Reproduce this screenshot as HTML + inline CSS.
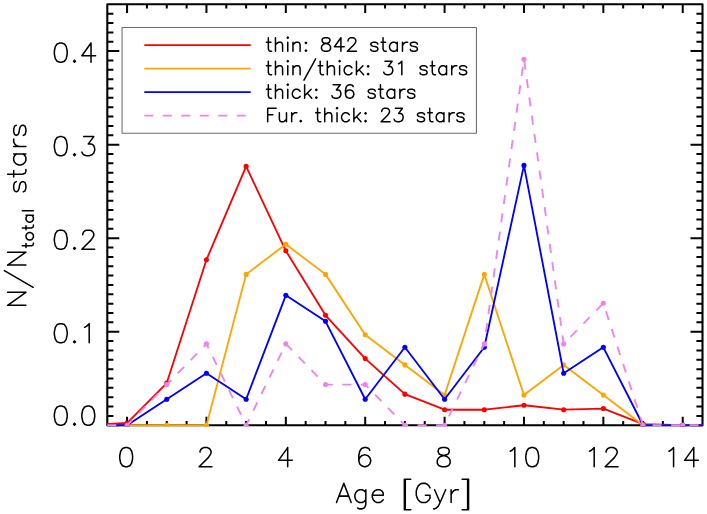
<!DOCTYPE html>
<html><head><meta charset="utf-8"><title>Age distribution</title>
<style>html,body{margin:0;padding:0;background:#fff;overflow:hidden;font-family:"Liberation Sans",sans-serif;}svg{display:block;position:absolute;left:0;top:0}</style>
</head><body>
<svg width="707" height="514" viewBox="0 0 707 514">
<rect x="0" y="0" width="707" height="514" fill="#fff"/>
<path d="M127.07 425.25V416.65 M127.07 4.3V12.9 M146.91 425.25V420.95 M146.91 4.3V8.6 M166.76 425.25V420.95 M166.76 4.3V8.6 M186.6 425.25V420.95 M186.6 4.3V8.6 M206.45 425.25V416.65 M206.45 4.3V12.9 M226.29 425.25V420.95 M226.29 4.3V8.6 M246.14 425.25V420.95 M246.14 4.3V8.6 M265.99 425.25V420.95 M265.99 4.3V8.6 M285.83 425.25V416.65 M285.83 4.3V12.9 M305.67 425.25V420.95 M305.67 4.3V8.6 M325.52 425.25V420.95 M325.52 4.3V8.6 M345.37 425.25V420.95 M345.37 4.3V8.6 M365.21 425.25V416.65 M365.21 4.3V12.9 M385.06 425.25V420.95 M385.06 4.3V8.6 M404.9 425.25V420.95 M404.9 4.3V8.6 M424.74 425.25V420.95 M424.74 4.3V8.6 M444.59 425.25V416.65 M444.59 4.3V12.9 M464.44 425.25V420.95 M464.44 4.3V8.6 M484.28 425.25V420.95 M484.28 4.3V8.6 M504.12 425.25V420.95 M504.12 4.3V8.6 M523.97 425.25V416.65 M523.97 4.3V12.9 M543.82 425.25V420.95 M543.82 4.3V8.6 M563.66 425.25V420.95 M563.66 4.3V8.6 M583.5 425.25V420.95 M583.5 4.3V8.6 M603.35 425.25V416.65 M603.35 4.3V12.9 M623.19 425.25V420.95 M623.19 4.3V8.6 M643.04 425.25V420.95 M643.04 4.3V8.6 M662.88 425.25V420.95 M662.88 4.3V8.6 M682.73 425.25V416.65 M682.73 4.3V12.9 M107.3 425.25H119.3 M702.5 425.25H690.5 M107.3 415.9H113.4 M702.5 415.9H696.4 M107.3 406.54H113.4 M702.5 406.54H696.4 M107.3 397.19H113.4 M702.5 397.19H696.4 M107.3 387.83H113.4 M702.5 387.83H696.4 M107.3 378.48H113.4 M702.5 378.48H696.4 M107.3 369.13H113.4 M702.5 369.13H696.4 M107.3 359.77H113.4 M702.5 359.77H696.4 M107.3 350.42H113.4 M702.5 350.42H696.4 M107.3 341.06H113.4 M702.5 341.06H696.4 M107.3 331.71H119.3 M702.5 331.71H690.5 M107.3 322.36H113.4 M702.5 322.36H696.4 M107.3 313H113.4 M702.5 313H696.4 M107.3 303.65H113.4 M702.5 303.65H696.4 M107.3 294.29H113.4 M702.5 294.29H696.4 M107.3 284.94H113.4 M702.5 284.94H696.4 M107.3 275.59H113.4 M702.5 275.59H696.4 M107.3 266.23H113.4 M702.5 266.23H696.4 M107.3 256.88H113.4 M702.5 256.88H696.4 M107.3 247.52H113.4 M702.5 247.52H696.4 M107.3 238.17H119.3 M702.5 238.17H690.5 M107.3 228.82H113.4 M702.5 228.82H696.4 M107.3 219.46H113.4 M702.5 219.46H696.4 M107.3 210.11H113.4 M702.5 210.11H696.4 M107.3 200.75H113.4 M702.5 200.75H696.4 M107.3 191.4H113.4 M702.5 191.4H696.4 M107.3 182.05H113.4 M702.5 182.05H696.4 M107.3 172.69H113.4 M702.5 172.69H696.4 M107.3 163.34H113.4 M702.5 163.34H696.4 M107.3 153.98H113.4 M702.5 153.98H696.4 M107.3 144.63H119.3 M702.5 144.63H690.5 M107.3 135.28H113.4 M702.5 135.28H696.4 M107.3 125.92H113.4 M702.5 125.92H696.4 M107.3 116.57H113.4 M702.5 116.57H696.4 M107.3 107.21H113.4 M702.5 107.21H696.4 M107.3 97.86H113.4 M702.5 97.86H696.4 M107.3 88.51H113.4 M702.5 88.51H696.4 M107.3 79.15H113.4 M702.5 79.15H696.4 M107.3 69.8H113.4 M702.5 69.8H696.4 M107.3 60.44H113.4 M702.5 60.44H696.4 M107.3 51.09H119.3 M702.5 51.09H690.5 M107.3 41.74H113.4 M702.5 41.74H696.4 M107.3 32.38H113.4 M702.5 32.38H696.4 M107.3 23.03H113.4 M702.5 23.03H696.4 M107.3 13.67H113.4 M702.5 13.67H696.4" stroke="#000" stroke-width="2.0" fill="none"/>
<rect x="107.3" y="4.3" width="595.2" height="420.95" fill="none" stroke="#000" stroke-width="2.1" stroke-linejoin="round"/>
<clipPath id="c"><rect x="106.9" y="4.3" width="596.1" height="422.15"/></clipPath>
<g clip-path="url(#c)">
<path d="M87.38 425.25 L127.07 423.03 L166.76 383.03 L206.45 259.72 L246.14 166.4 L285.83 250.83 L325.52 315.27 L365.21 358.59 L404.9 394.14 L444.59 409.7 L484.28 409.7 L523.97 405.25 L563.66 409.7 L603.35 408.59 L643.04 424.14 L682.73 425.25 L722.42 425.25" stroke="#ff0000" stroke-width="1.85" fill="none" stroke-linejoin="round"/>
<circle cx="127.07" cy="423.03" r="2.55" fill="#ff0000"/>
<circle cx="166.76" cy="383.03" r="2.55" fill="#ff0000"/>
<circle cx="206.45" cy="259.72" r="2.55" fill="#ff0000"/>
<circle cx="246.14" cy="166.4" r="2.55" fill="#ff0000"/>
<circle cx="285.83" cy="250.83" r="2.55" fill="#ff0000"/>
<circle cx="325.52" cy="315.27" r="2.55" fill="#ff0000"/>
<circle cx="365.21" cy="358.59" r="2.55" fill="#ff0000"/>
<circle cx="404.9" cy="394.14" r="2.55" fill="#ff0000"/>
<circle cx="444.59" cy="409.7" r="2.55" fill="#ff0000"/>
<circle cx="484.28" cy="409.7" r="2.55" fill="#ff0000"/>
<circle cx="523.97" cy="405.25" r="2.55" fill="#ff0000"/>
<circle cx="563.66" cy="409.7" r="2.55" fill="#ff0000"/>
<circle cx="603.35" cy="408.59" r="2.55" fill="#ff0000"/>
<circle cx="643.04" cy="424.14" r="2.55" fill="#ff0000"/>
<circle cx="682.73" cy="425.25" r="2.55" fill="#ff0000"/>
<path d="M87.38 425.25 L127.07 425.25 L166.76 425.25 L206.45 425.25 L246.14 274.38 L285.83 244.2 L325.52 274.38 L365.21 334.73 L404.9 364.9 L444.59 395.08 L484.28 274.38 L523.97 395.08 L563.66 364.9 L603.35 395.08 L643.04 425.25 L682.73 425.25 L722.42 425.25" stroke="#ffa500" stroke-width="1.85" fill="none" stroke-linejoin="round"/>
<circle cx="127.07" cy="425.25" r="2.55" fill="#ffa500"/>
<circle cx="166.76" cy="425.25" r="2.55" fill="#ffa500"/>
<circle cx="206.45" cy="425.25" r="2.55" fill="#ffa500"/>
<circle cx="246.14" cy="274.38" r="2.55" fill="#ffa500"/>
<circle cx="285.83" cy="244.2" r="2.55" fill="#ffa500"/>
<circle cx="325.52" cy="274.38" r="2.55" fill="#ffa500"/>
<circle cx="365.21" cy="334.73" r="2.55" fill="#ffa500"/>
<circle cx="404.9" cy="364.9" r="2.55" fill="#ffa500"/>
<circle cx="444.59" cy="395.08" r="2.55" fill="#ffa500"/>
<circle cx="484.28" cy="274.38" r="2.55" fill="#ffa500"/>
<circle cx="523.97" cy="395.08" r="2.55" fill="#ffa500"/>
<circle cx="563.66" cy="364.9" r="2.55" fill="#ffa500"/>
<circle cx="603.35" cy="395.08" r="2.55" fill="#ffa500"/>
<circle cx="643.04" cy="425.25" r="2.55" fill="#ffa500"/>
<circle cx="682.73" cy="425.25" r="2.55" fill="#ffa500"/>
<path d="M87.38 425.25 L127.07 425.25 L166.76 399.27 L206.45 373.28 L246.14 399.27 L285.83 295.33 L325.52 321.32 L365.21 399.27 L404.9 347.3 L444.59 399.27 L484.28 347.3 L523.97 165.42 L563.66 373.28 L603.35 347.3 L643.04 425.25 L682.73 425.25 L722.42 425.25" stroke="#0000ff" stroke-width="1.85" fill="none" stroke-linejoin="round"/>
<circle cx="127.07" cy="425.25" r="2.55" fill="#0000ff"/>
<circle cx="166.76" cy="399.27" r="2.55" fill="#0000ff"/>
<circle cx="206.45" cy="373.28" r="2.55" fill="#0000ff"/>
<circle cx="246.14" cy="399.27" r="2.55" fill="#0000ff"/>
<circle cx="285.83" cy="295.33" r="2.55" fill="#0000ff"/>
<circle cx="325.52" cy="321.32" r="2.55" fill="#0000ff"/>
<circle cx="365.21" cy="399.27" r="2.55" fill="#0000ff"/>
<circle cx="404.9" cy="347.3" r="2.55" fill="#0000ff"/>
<circle cx="444.59" cy="399.27" r="2.55" fill="#0000ff"/>
<circle cx="484.28" cy="347.3" r="2.55" fill="#0000ff"/>
<circle cx="523.97" cy="165.42" r="2.55" fill="#0000ff"/>
<circle cx="563.66" cy="373.28" r="2.55" fill="#0000ff"/>
<circle cx="603.35" cy="347.3" r="2.55" fill="#0000ff"/>
<circle cx="643.04" cy="425.25" r="2.55" fill="#0000ff"/>
<circle cx="682.73" cy="425.25" r="2.55" fill="#0000ff"/>
<path d="M107.3 425.25 L127.07 425.25 L166.76 384.58 L206.45 343.91 L246.14 425.25 L285.83 343.91 L325.52 384.58 L365.21 384.58 L404.9 425.25 L444.59 425.25 L484.28 343.91 L523.97 59.22 L563.66 343.91 L603.35 303.24 L643.04 425.25 L682.73 425.25 L722.42 425.25" stroke="#ee82ee" stroke-width="1.85" fill="none" stroke-linejoin="round" stroke-dasharray="9 9.48"/>
<circle cx="127.07" cy="425.25" r="2.55" fill="#ee82ee"/>
<circle cx="166.76" cy="384.58" r="2.55" fill="#ee82ee"/>
<circle cx="206.45" cy="343.91" r="2.55" fill="#ee82ee"/>
<circle cx="246.14" cy="425.25" r="2.55" fill="#ee82ee"/>
<circle cx="285.83" cy="343.91" r="2.55" fill="#ee82ee"/>
<circle cx="325.52" cy="384.58" r="2.55" fill="#ee82ee"/>
<circle cx="365.21" cy="384.58" r="2.55" fill="#ee82ee"/>
<circle cx="404.9" cy="425.25" r="2.55" fill="#ee82ee"/>
<circle cx="444.59" cy="425.25" r="2.55" fill="#ee82ee"/>
<circle cx="484.28" cy="343.91" r="2.55" fill="#ee82ee"/>
<circle cx="523.97" cy="59.22" r="2.55" fill="#ee82ee"/>
<circle cx="563.66" cy="343.91" r="2.55" fill="#ee82ee"/>
<circle cx="603.35" cy="303.24" r="2.55" fill="#ee82ee"/>
<circle cx="643.04" cy="425.25" r="2.55" fill="#ee82ee"/>
<circle cx="682.73" cy="425.25" r="2.55" fill="#ee82ee"/>
</g>
<rect x="122.05" y="27.55" width="354.4" height="105.75" fill="none" stroke="#6c6c6c" stroke-width="1.05" stroke-linejoin="round"/>
<path d="M144.3 45.2H250.7" stroke="#ff0000" stroke-width="1.8" fill="none"/>
<path d="M144.3 68.7H250.7" stroke="#ffa500" stroke-width="1.8" fill="none"/>
<path d="M144.3 92.2H250.7" stroke="#0000ff" stroke-width="1.8" fill="none"/>
<path d="M144.3 115.7H250.7" stroke="#ee82ee" stroke-width="1.8" fill="none" stroke-dasharray="9 9.48"/>
<path d="M268.34 37.69 L268.34 48.71 L268.99 50.65 L270.29 51.3 L271.58 51.3 M266.4 42.23 L270.94 42.23 M275.47 37.69 L275.47 51.3 M275.47 44.82 L277.42 42.88 L278.71 42.23 L280.66 42.23 L281.95 42.88 L282.6 44.82 L282.6 51.3 M287.14 37.69 L287.78 38.34 L288.43 37.69 L287.78 37.04 L287.14 37.69 M287.78 42.23 L287.78 51.3 M292.97 42.23 L292.97 51.3 M292.97 44.82 L294.91 42.88 L296.21 42.23 L298.15 42.23 L299.45 42.88 L300.1 44.82 L300.1 51.3 M305.93 42.23 L305.28 42.88 L305.93 43.52 L306.58 42.88 L305.93 42.23 M305.93 50 L305.28 50.65 L305.93 51.3 L306.58 50.65 L305.93 50 M324.72 37.69 L322.78 38.34 L322.13 39.64 L322.13 40.93 L322.78 42.23 L324.07 42.88 L326.66 43.52 L328.61 44.17 L329.9 45.47 L330.55 46.76 L330.55 48.71 L329.9 50 L329.26 50.65 L327.31 51.3 L324.72 51.3 L322.78 50.65 L322.13 50 L321.48 48.71 L321.48 46.76 L322.13 45.47 L323.42 44.17 L325.37 43.52 L327.96 42.88 L329.26 42.23 L329.9 40.93 L329.9 39.64 L329.26 38.34 L327.31 37.69 L324.72 37.69 M340.92 37.69 L334.44 46.76 L344.16 46.76 M340.92 37.69 L340.92 51.3 M348.05 40.93 L348.05 40.28 L348.7 38.99 L349.34 38.34 L350.64 37.69 L353.23 37.69 L354.53 38.34 L355.18 38.99 L355.82 40.28 L355.82 41.58 L355.18 42.88 L353.88 44.82 L347.4 51.3 L356.47 51.3 M377.86 44.17 L377.21 42.88 L375.26 42.23 L373.32 42.23 L371.38 42.88 L370.73 44.17 L371.38 45.47 L372.67 46.12 L375.91 46.76 L377.21 47.41 L377.86 48.71 L377.86 49.36 L377.21 50.65 L375.26 51.3 L373.32 51.3 L371.38 50.65 L370.73 49.36 M383.04 37.69 L383.04 48.71 L383.69 50.65 L384.98 51.3 L386.28 51.3 M381.1 42.23 L385.63 42.23 M397.3 42.23 L397.3 51.3 M397.3 44.17 L396 42.88 L394.7 42.23 L392.76 42.23 L391.46 42.88 L390.17 44.17 L389.52 46.12 L389.52 47.41 L390.17 49.36 L391.46 50.65 L392.76 51.3 L394.7 51.3 L396 50.65 L397.3 49.36 M402.48 42.23 L402.48 51.3 M402.48 46.12 L403.13 44.17 L404.42 42.88 L405.72 42.23 L407.66 42.23 M417.38 44.17 L416.74 42.88 L414.79 42.23 L412.85 42.23 L410.9 42.88 L410.26 44.17 L410.9 45.47 L412.2 46.12 L415.44 46.76 L416.74 47.41 L417.38 48.71 L417.38 49.36 L416.74 50.65 L414.79 51.3 L412.85 51.3 L410.9 50.65 L410.26 49.36 M268.34 61.19 L268.34 72.21 L268.99 74.15 L270.29 74.8 L271.58 74.8 M266.4 65.73 L270.94 65.73 M275.47 61.19 L275.47 74.8 M275.47 68.32 L277.42 66.38 L278.71 65.73 L280.66 65.73 L281.95 66.38 L282.6 68.32 L282.6 74.8 M287.14 61.19 L287.78 61.84 L288.43 61.19 L287.78 60.54 L287.14 61.19 M287.78 65.73 L287.78 74.8 M292.97 65.73 L292.97 74.8 M292.97 68.32 L294.91 66.38 L296.21 65.73 L298.15 65.73 L299.45 66.38 L300.1 68.32 L300.1 74.8 M315.65 58.79 L303.98 80.18 M320.18 61.19 L320.18 72.21 L320.83 74.15 L322.13 74.8 L323.42 74.8 M318.24 65.73 L322.78 65.73 M327.31 61.19 L327.31 74.8 M327.31 68.32 L329.26 66.38 L330.55 65.73 L332.5 65.73 L333.79 66.38 L334.44 68.32 L334.44 74.8 M338.98 61.19 L339.62 61.84 L340.27 61.19 L339.62 60.54 L338.98 61.19 M339.62 65.73 L339.62 74.8 M351.94 67.67 L350.64 66.38 L349.34 65.73 L347.4 65.73 L346.1 66.38 L344.81 67.67 L344.16 69.62 L344.16 70.91 L344.81 72.86 L346.1 74.15 L347.4 74.8 L349.34 74.8 L350.64 74.15 L351.94 72.86 M356.47 61.19 L356.47 74.8 M362.95 65.73 L356.47 72.21 M359.06 69.62 L363.6 74.8 M368.14 65.73 L367.49 66.38 L368.14 67.02 L368.78 66.38 L368.14 65.73 M368.14 73.5 L367.49 74.15 L368.14 74.8 L368.78 74.15 L368.14 73.5 M384.98 61.19 L392.11 61.19 L388.22 66.38 L390.17 66.38 L391.46 67.02 L392.11 67.67 L392.76 69.62 L392.76 70.91 L392.11 72.86 L390.82 74.15 L388.87 74.8 L386.93 74.8 L384.98 74.15 L384.34 73.5 L383.69 72.21 M398.59 63.78 L399.89 63.14 L401.83 61.19 L401.83 74.8 M427.1 67.67 L426.46 66.38 L424.51 65.73 L422.57 65.73 L420.62 66.38 L419.98 67.67 L420.62 68.97 L421.92 69.62 L425.16 70.26 L426.46 70.91 L427.1 72.21 L427.1 72.86 L426.46 74.15 L424.51 74.8 L422.57 74.8 L420.62 74.15 L419.98 72.86 M432.29 61.19 L432.29 72.21 L432.94 74.15 L434.23 74.8 L435.53 74.8 M430.34 65.73 L434.88 65.73 M446.54 65.73 L446.54 74.8 M446.54 67.67 L445.25 66.38 L443.95 65.73 L442.01 65.73 L440.71 66.38 L439.42 67.67 L438.77 69.62 L438.77 70.91 L439.42 72.86 L440.71 74.15 L442.01 74.8 L443.95 74.8 L445.25 74.15 L446.54 72.86 M451.73 65.73 L451.73 74.8 M451.73 69.62 L452.38 67.67 L453.67 66.38 L454.97 65.73 L456.91 65.73 M466.63 67.67 L465.98 66.38 L464.04 65.73 L462.1 65.73 L460.15 66.38 L459.5 67.67 L460.15 68.97 L461.45 69.62 L464.69 70.26 L465.98 70.91 L466.63 72.21 L466.63 72.86 L465.98 74.15 L464.04 74.8 L462.1 74.8 L460.15 74.15 L459.5 72.86 M268.34 84.69 L268.34 95.71 L268.99 97.65 L270.29 98.3 L271.58 98.3 M266.4 89.23 L270.94 89.23 M275.47 84.69 L275.47 98.3 M275.47 91.82 L277.42 89.88 L278.71 89.23 L280.66 89.23 L281.95 89.88 L282.6 91.82 L282.6 98.3 M287.14 84.69 L287.78 85.34 L288.43 84.69 L287.78 84.04 L287.14 84.69 M287.78 89.23 L287.78 98.3 M300.1 91.17 L298.8 89.88 L297.5 89.23 L295.56 89.23 L294.26 89.88 L292.97 91.17 L292.32 93.12 L292.32 94.41 L292.97 96.36 L294.26 97.65 L295.56 98.3 L297.5 98.3 L298.8 97.65 L300.1 96.36 M304.63 84.69 L304.63 98.3 M311.11 89.23 L304.63 95.71 M307.22 93.12 L311.76 98.3 M316.3 89.23 L315.65 89.88 L316.3 90.52 L316.94 89.88 L316.3 89.23 M316.3 97 L315.65 97.65 L316.3 98.3 L316.94 97.65 L316.3 97 M333.14 84.69 L340.27 84.69 L336.38 89.88 L338.33 89.88 L339.62 90.52 L340.27 91.17 L340.92 93.12 L340.92 94.41 L340.27 96.36 L338.98 97.65 L337.03 98.3 L335.09 98.3 L333.14 97.65 L332.5 97 L331.85 95.71 M353.23 86.64 L352.58 85.34 L350.64 84.69 L349.34 84.69 L347.4 85.34 L346.1 87.28 L345.46 90.52 L345.46 93.76 L346.1 96.36 L347.4 97.65 L349.34 98.3 L349.99 98.3 L351.94 97.65 L353.23 96.36 L353.88 94.41 L353.88 93.76 L353.23 91.82 L351.94 90.52 L349.99 89.88 L349.34 89.88 L347.4 90.52 L346.1 91.82 L345.46 93.76 M375.26 91.17 L374.62 89.88 L372.67 89.23 L370.73 89.23 L368.78 89.88 L368.14 91.17 L368.78 92.47 L370.08 93.12 L373.32 93.76 L374.62 94.41 L375.26 95.71 L375.26 96.36 L374.62 97.65 L372.67 98.3 L370.73 98.3 L368.78 97.65 L368.14 96.36 M380.45 84.69 L380.45 95.71 L381.1 97.65 L382.39 98.3 L383.69 98.3 M378.5 89.23 L383.04 89.23 M394.7 89.23 L394.7 98.3 M394.7 91.17 L393.41 89.88 L392.11 89.23 L390.17 89.23 L388.87 89.88 L387.58 91.17 L386.93 93.12 L386.93 94.41 L387.58 96.36 L388.87 97.65 L390.17 98.3 L392.11 98.3 L393.41 97.65 L394.7 96.36 M399.89 89.23 L399.89 98.3 M399.89 93.12 L400.54 91.17 L401.83 89.88 L403.13 89.23 L405.07 89.23 M414.79 91.17 L414.14 89.88 L412.2 89.23 L410.26 89.23 L408.31 89.88 L407.66 91.17 L408.31 92.47 L409.61 93.12 L412.85 93.76 L414.14 94.41 L414.79 95.71 L414.79 96.36 L414.14 97.65 L412.2 98.3 L410.26 98.3 L408.31 97.65 L407.66 96.36 M267.7 108.19 L267.7 121.8 M267.7 108.19 L276.12 108.19 M267.7 114.67 L272.88 114.67 M279.36 112.73 L279.36 119.21 L280.01 121.15 L281.3 121.8 L283.25 121.8 L284.54 121.15 L286.49 119.21 M286.49 112.73 L286.49 121.8 M291.67 112.73 L291.67 121.8 M291.67 116.62 L292.32 114.67 L293.62 113.38 L294.91 112.73 L296.86 112.73 M300.74 120.5 L300.1 121.15 L300.74 121.8 L301.39 121.15 L300.74 120.5 M317.59 108.19 L317.59 119.21 L318.24 121.15 L319.54 121.8 L320.83 121.8 M315.65 112.73 L320.18 112.73 M324.72 108.19 L324.72 121.8 M324.72 115.32 L326.66 113.38 L327.96 112.73 L329.9 112.73 L331.2 113.38 L331.85 115.32 L331.85 121.8 M336.38 108.19 L337.03 108.84 L337.68 108.19 L337.03 107.54 L336.38 108.19 M337.03 112.73 L337.03 121.8 M349.34 114.67 L348.05 113.38 L346.75 112.73 L344.81 112.73 L343.51 113.38 L342.22 114.67 L341.57 116.62 L341.57 117.91 L342.22 119.86 L343.51 121.15 L344.81 121.8 L346.75 121.8 L348.05 121.15 L349.34 119.86 M353.88 108.19 L353.88 121.8 M360.36 112.73 L353.88 119.21 M356.47 116.62 L361.01 121.8 M365.54 112.73 L364.9 113.38 L365.54 114.02 L366.19 113.38 L365.54 112.73 M365.54 120.5 L364.9 121.15 L365.54 121.8 L366.19 121.15 L365.54 120.5 M381.74 111.43 L381.74 110.78 L382.39 109.49 L383.04 108.84 L384.34 108.19 L386.93 108.19 L388.22 108.84 L388.87 109.49 L389.52 110.78 L389.52 112.08 L388.87 113.38 L387.58 115.32 L381.1 121.8 L390.17 121.8 M395.35 108.19 L402.48 108.19 L398.59 113.38 L400.54 113.38 L401.83 114.02 L402.48 114.67 L403.13 116.62 L403.13 117.91 L402.48 119.86 L401.18 121.15 L399.24 121.8 L397.3 121.8 L395.35 121.15 L394.7 120.5 L394.06 119.21 M424.51 114.67 L423.86 113.38 L421.92 112.73 L419.98 112.73 L418.03 113.38 L417.38 114.67 L418.03 115.97 L419.33 116.62 L422.57 117.26 L423.86 117.91 L424.51 119.21 L424.51 119.86 L423.86 121.15 L421.92 121.8 L419.98 121.8 L418.03 121.15 L417.38 119.86 M429.7 108.19 L429.7 119.21 L430.34 121.15 L431.64 121.8 L432.94 121.8 M427.75 112.73 L432.29 112.73 M443.95 112.73 L443.95 121.8 M443.95 114.67 L442.66 113.38 L441.36 112.73 L439.42 112.73 L438.12 113.38 L436.82 114.67 L436.18 116.62 L436.18 117.91 L436.82 119.86 L438.12 121.15 L439.42 121.8 L441.36 121.8 L442.66 121.15 L443.95 119.86 M449.14 112.73 L449.14 121.8 M449.14 116.62 L449.78 114.67 L451.08 113.38 L452.38 112.73 L454.32 112.73 M464.04 114.67 L463.39 113.38 L461.45 112.73 L459.5 112.73 L457.56 113.38 L456.91 114.67 L457.56 115.97 L458.86 116.62 L462.1 117.26 L463.39 117.91 L464.04 119.21 L464.04 119.86 L463.39 121.15 L461.45 121.8 L459.5 121.8 L457.56 121.15 L456.91 119.86" stroke="#000" stroke-width="1.5" fill="none" stroke-linecap="round" stroke-linejoin="round"/>
<path d="M125.25 447.57 L122.5 448.48 L120.67 451.21 L119.75 455.77 L119.75 458.5 L120.67 463.06 L122.5 465.79 L125.25 466.7 L127.09 466.7 L129.84 465.79 L131.67 463.06 L132.59 458.5 L132.59 455.77 L131.67 451.21 L129.84 448.48 L127.09 447.57 L125.25 447.57 M200.05 452.12 L200.05 451.21 L200.97 449.39 L201.88 448.48 L203.72 447.57 L207.38 447.57 L209.22 448.48 L210.13 449.39 L211.05 451.21 L211.05 453.03 L210.13 454.86 L208.3 457.59 L199.13 466.7 L211.97 466.7 M287.68 447.57 L278.51 460.32 L292.27 460.32 M287.68 447.57 L287.68 466.7 M369.81 450.3 L368.89 448.48 L366.14 447.57 L364.31 447.57 L361.56 448.48 L359.72 451.21 L358.81 455.77 L358.81 460.32 L359.72 463.97 L361.56 465.79 L364.31 466.7 L365.23 466.7 L367.98 465.79 L369.81 463.97 L370.73 461.23 L370.73 460.32 L369.81 457.59 L367.98 455.77 L365.23 454.86 L364.31 454.86 L361.56 455.77 L359.72 457.59 L358.81 460.32 M441.86 447.57 L439.1 448.48 L438.19 450.3 L438.19 452.12 L439.1 453.95 L440.94 454.86 L444.61 455.77 L447.36 456.68 L449.19 458.5 L450.11 460.32 L450.11 463.06 L449.19 464.88 L448.27 465.79 L445.52 466.7 L441.86 466.7 L439.1 465.79 L438.19 464.88 L437.27 463.06 L437.27 460.32 L438.19 458.5 L440.02 456.68 L442.77 455.77 L446.44 454.86 L448.27 453.95 L449.19 452.12 L449.19 450.3 L448.27 448.48 L445.52 447.57 L441.86 447.57 M510.23 451.21 L512.07 450.3 L514.82 447.57 L514.82 466.7 M531.32 447.57 L528.57 448.48 L526.74 451.21 L525.82 455.77 L525.82 458.5 L526.74 463.06 L528.57 465.79 L531.32 466.7 L533.16 466.7 L535.91 465.79 L537.74 463.06 L538.66 458.5 L538.66 455.77 L537.74 451.21 L535.91 448.48 L533.16 447.57 L531.32 447.57 M589.61 451.21 L591.45 450.3 L594.2 447.57 L594.2 466.7 M606.12 452.12 L606.12 451.21 L607.03 449.39 L607.95 448.48 L609.79 447.57 L613.45 447.57 L615.29 448.48 L616.2 449.39 L617.12 451.21 L617.12 453.03 L616.2 454.86 L614.37 457.59 L605.2 466.7 L618.04 466.7 M668.99 451.21 L670.83 450.3 L673.58 447.57 L673.58 466.7 M693.75 447.57 L684.58 460.32 L698.34 460.32 M693.75 447.57 L693.75 466.7 M59.85 406.07 L57.1 406.98 L55.27 409.71 L54.35 414.27 L54.35 417 L55.27 421.56 L57.1 424.29 L59.85 425.2 L61.69 425.2 L64.44 424.29 L66.27 421.56 L67.19 417 L67.19 414.27 L66.27 409.71 L64.44 406.98 L61.69 406.07 L59.85 406.07 M74.53 423.38 L73.61 424.29 L74.53 425.2 L75.44 424.29 L74.53 423.38 M87.36 406.07 L84.61 406.98 L82.78 409.71 L81.86 414.27 L81.86 417 L82.78 421.56 L84.61 424.29 L87.36 425.2 L89.2 425.2 L91.95 424.29 L93.78 421.56 L94.7 417 L94.7 414.27 L93.78 409.71 L91.95 406.98 L89.2 406.07 L87.36 406.07 M59.85 323.68 L57.1 324.59 L55.27 327.32 L54.35 331.88 L54.35 334.61 L55.27 339.17 L57.1 341.9 L59.85 342.81 L61.69 342.81 L64.44 341.9 L66.27 339.17 L67.19 334.61 L67.19 331.88 L66.27 327.32 L64.44 324.59 L61.69 323.68 L59.85 323.68 M74.53 340.99 L73.61 341.9 L74.53 342.81 L75.44 341.9 L74.53 340.99 M84.61 327.32 L86.45 326.41 L89.2 323.68 L89.2 342.81 M59.85 230.14 L57.1 231.05 L55.27 233.78 L54.35 238.34 L54.35 241.07 L55.27 245.63 L57.1 248.36 L59.85 249.27 L61.69 249.27 L64.44 248.36 L66.27 245.63 L67.19 241.07 L67.19 238.34 L66.27 233.78 L64.44 231.05 L61.69 230.14 L59.85 230.14 M74.53 247.45 L73.61 248.36 L74.53 249.27 L75.44 248.36 L74.53 247.45 M82.78 234.69 L82.78 233.78 L83.69 231.96 L84.61 231.05 L86.45 230.14 L90.11 230.14 L91.95 231.05 L92.87 231.96 L93.78 233.78 L93.78 235.6 L92.87 237.43 L91.03 240.16 L81.86 249.27 L94.7 249.27 M59.85 136.6 L57.1 137.51 L55.27 140.24 L54.35 144.8 L54.35 147.53 L55.27 152.09 L57.1 154.82 L59.85 155.73 L61.69 155.73 L64.44 154.82 L66.27 152.09 L67.19 147.53 L67.19 144.8 L66.27 140.24 L64.44 137.51 L61.69 136.6 L59.85 136.6 M74.53 153.91 L73.61 154.82 L74.53 155.73 L75.44 154.82 L74.53 153.91 M83.69 136.6 L93.78 136.6 L88.28 143.89 L91.03 143.89 L92.87 144.8 L93.78 145.71 L94.7 148.44 L94.7 150.26 L93.78 153 L91.95 154.82 L89.2 155.73 L86.45 155.73 L83.69 154.82 L82.78 153.91 L81.86 152.09 M59.85 43.06 L57.1 43.97 L55.27 46.7 L54.35 51.26 L54.35 53.99 L55.27 58.55 L57.1 61.28 L59.85 62.19 L61.69 62.19 L64.44 61.28 L66.27 58.55 L67.19 53.99 L67.19 51.26 L66.27 46.7 L64.44 43.97 L61.69 43.06 L59.85 43.06 M74.53 60.37 L73.61 61.28 L74.53 62.19 L75.44 61.28 L74.53 60.37 M91.03 43.06 L81.86 55.81 L95.62 55.81 M91.03 43.06 L91.03 62.19 M343.84 483.37 L336.5 502.5 M343.84 483.37 L351.17 502.5 M339.25 496.12 L348.42 496.12 M365.84 489.75 L365.84 504.32 L364.93 507.06 L364.01 507.97 L362.18 508.88 L359.43 508.88 L357.59 507.97 M365.84 492.48 L364.01 490.66 L362.18 489.75 L359.43 489.75 L357.59 490.66 L355.76 492.48 L354.84 495.21 L354.84 497.03 L355.76 499.77 L357.59 501.59 L359.43 502.5 L362.18 502.5 L364.01 501.59 L365.84 499.77 M372.26 495.21 L383.27 495.21 L383.27 493.39 L382.35 491.57 L381.43 490.66 L379.6 489.75 L376.85 489.75 L375.01 490.66 L373.18 492.48 L372.26 495.21 L372.26 497.03 L373.18 499.77 L375.01 501.59 L376.85 502.5 L379.6 502.5 L381.43 501.59 L383.27 499.77 M404.36 479.36 L404.36 509.79 M405.28 479.36 L405.28 509.79 M404.36 479.36 L410.78 479.36 M404.36 509.79 L410.78 509.79 M430.03 487.92 L429.12 486.1 L427.28 484.28 L425.45 483.37 L421.78 483.37 L419.95 484.28 L418.11 486.1 L417.2 487.92 L416.28 490.66 L416.28 495.21 L417.2 497.94 L418.11 499.77 L419.95 501.59 L421.78 502.5 L425.45 502.5 L427.28 501.59 L429.12 499.77 L430.03 497.94 L430.03 495.21 M425.45 495.21 L430.03 495.21 M434.62 489.75 L440.12 502.5 M445.62 489.75 L440.12 502.5 L438.29 506.14 L436.45 507.97 L434.62 508.88 L433.7 508.88 M451.12 489.75 L451.12 502.5 M451.12 495.21 L452.04 492.48 L453.88 490.66 L455.71 489.75 L458.46 489.75 M467.63 479.36 L467.63 509.79 M468.55 479.36 L468.55 509.79 M462.13 479.36 L468.55 479.36 M462.13 509.79 L468.55 509.79 M7.59 305.3 L25.9 305.3 M7.59 305.3 L25.9 292.35 M7.59 292.35 L25.9 292.35 M4.36 270.65 L33.14 287.3 M7.59 265.1 L25.9 265.1 M7.59 265.1 L25.9 252.15 M7.59 252.15 L25.9 252.15 M22.31 245.78 L31.29 245.78 L32.87 245.2 L33.4 244.05 L33.4 242.9 M26.01 247.5 L26.01 243.47 M26.01 237.15 L26.54 238.3 L27.59 239.45 L29.18 240.03 L30.23 240.03 L31.82 239.45 L32.87 238.3 L33.4 237.15 L33.4 235.43 L32.87 234.28 L31.82 233.12 L30.23 232.55 L29.18 232.55 L27.59 233.12 L26.54 234.28 L26.01 235.43 L26.01 237.15 M22.31 227.95 L31.29 227.95 L32.87 227.38 L33.4 226.23 L33.4 225.08 M26.01 229.68 L26.01 225.65 M26.01 215.3 L33.4 215.3 M27.59 215.3 L26.54 216.45 L26.01 217.6 L26.01 219.33 L26.54 220.48 L27.59 221.62 L29.18 222.2 L30.23 222.2 L31.82 221.62 L32.87 220.48 L33.4 219.33 L33.4 217.6 L32.87 216.45 L31.82 215.3 M22.31 210.7 L33.4 210.7 M16.31 181.65 L14.56 182.57 L13.69 185.35 L13.69 188.12 L14.56 190.9 L16.31 191.83 L18.05 190.9 L18.92 189.05 L19.8 184.43 L20.67 182.57 L22.41 181.65 L23.28 181.65 L25.03 182.57 L25.9 185.35 L25.9 188.12 L25.03 190.9 L23.28 191.83 M7.59 174.25 L22.41 174.25 L25.03 173.32 L25.9 171.47 L25.9 169.62 M13.69 177.03 L13.69 170.55 M13.69 153.9 L25.9 153.9 M16.31 153.9 L14.56 155.75 L13.69 157.6 L13.69 160.38 L14.56 162.22 L16.31 164.07 L18.92 165 L20.67 165 L23.28 164.07 L25.03 162.22 L25.9 160.38 L25.9 157.6 L25.03 155.75 L23.28 153.9 M13.69 146.5 L25.9 146.5 M18.92 146.5 L16.31 145.57 L14.56 143.73 L13.69 141.88 L13.69 139.1 M16.31 125.23 L14.56 126.15 L13.69 128.93 L13.69 131.7 L14.56 134.48 L16.31 135.4 L18.05 134.48 L18.92 132.62 L19.8 128 L20.67 126.15 L22.41 125.23 L23.28 125.23 L25.03 126.15 L25.9 128.93 L25.9 131.7 L25.03 134.48 L23.28 135.4" stroke="#000" stroke-width="1.52" fill="none" stroke-linecap="round" stroke-linejoin="round"/>
</svg>
</body></html>
